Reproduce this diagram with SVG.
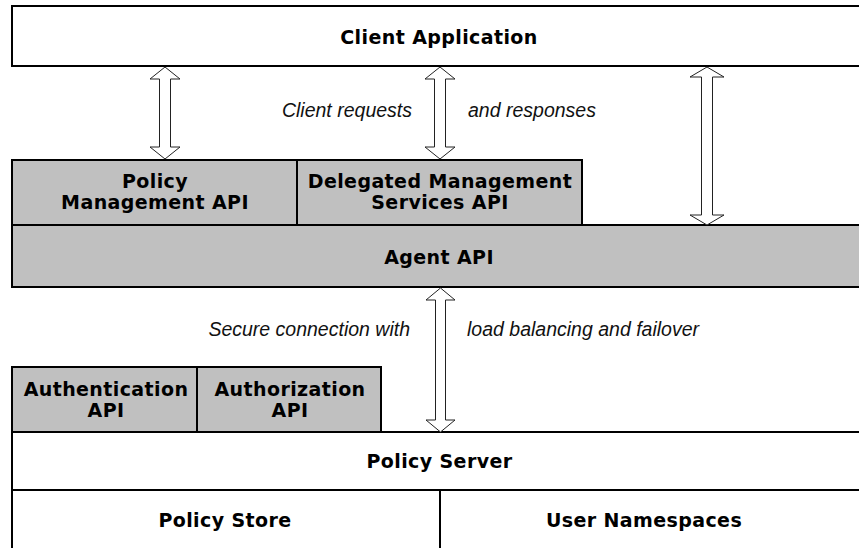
<svg xmlns="http://www.w3.org/2000/svg" width="859" height="548" viewBox="0 0 859 548">
<style>
.box{stroke:#000;stroke-width:2}
.w{fill:#fff}
.g{fill:#c0c0c0}
.t{font-family:"DejaVu Sans",Verdana,sans-serif;font-weight:bold;font-size:19px;letter-spacing:0.4px;text-anchor:middle;fill:#000}
.i{font-family:"Liberation Sans",Arial,sans-serif;font-style:italic;font-size:19.5px;fill:#111}
.arr{fill:#fff;stroke:#222;stroke-width:1}
</style>
<rect width="859" height="548" fill="#fff"/>
<g id="client-application"><rect class="box w" x="12" y="6" width="860" height="60"/><text class="t" x="439" y="44">Client Application</text></g>
<g id="policy-management-api"><rect class="box g" x="12" y="160" width="285" height="65"/><text class="t" x="155" y="188">Policy</text><text class="t" x="155" y="209">Management API</text></g>
<g id="delegated-management-services-api"><rect class="box g" x="297" y="160" width="285" height="65"/><text class="t" x="440" y="188">Delegated Management</text><text class="t" x="440" y="209">Services API</text></g>
<g id="agent-api"><rect class="box g" x="12" y="225" width="860" height="62"/><text class="t" x="439" y="264">Agent API</text></g>
<g id="authentication-api"><rect class="box g" x="12" y="367" width="185" height="65"/><text class="t" x="106" y="396">Authentication</text><text class="t" x="106" y="417">API</text></g>
<g id="authorization-api"><rect class="box g" x="197" y="367" width="184" height="65"/><text class="t" x="290" y="396">Authorization</text><text class="t" x="290" y="417">API</text></g>
<g id="policy-server"><rect class="box w" x="12" y="432" width="860" height="58"/><text class="t" x="439.5" y="468">Policy Server</text></g>
<g id="policy-store"><rect class="box w" x="12" y="490" width="428" height="70"/><text class="t" x="225" y="527">Policy Store</text></g>
<g id="user-namespaces"><rect class="box w" x="440" y="490" width="432" height="70"/><text class="t" x="644" y="527">User Namespaces</text></g>
<g id="connectors">
<path class="arr" d="M165,67 L180,79 L170.5,79 L170.5,147 L180,147 L165,159 L150,147 L159.5,147 L159.5,79 L150,79 Z"/>
<path class="arr" d="M440,67 L455,79 L445.5,79 L445.5,147 L455,147 L440,159 L425,147 L434.5,147 L434.5,79 L425,79 Z"/>
<path class="arr" d="M707,67 L724,77 L712.5,77 L712.5,215 L724,215 L707,225 L690,215 L701.5,215 L701.5,77 L690,77 Z"/>
<path class="arr" d="M440.5,288 L455,300 L445.5,300 L445.5,420 L455,420 L440.5,432 L426,420 L435.5,420 L435.5,300 L426,300 Z"/>
<text class="i" x="412" y="117" text-anchor="end">Client requests</text>
<text class="i" x="468" y="117">and responses</text>
<text class="i" x="410" y="336" text-anchor="end">Secure connection with</text>
<text class="i" x="467" y="336">load balancing and failover</text>
</g>
</svg>
